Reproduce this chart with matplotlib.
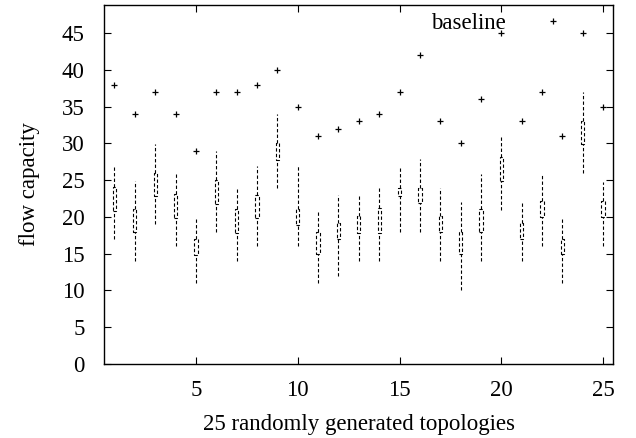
import matplotlib
matplotlib.use("Agg")
import matplotlib.pyplot as plt
from matplotlib.patches import Rectangle

plt.rcParams['font.family'] = ['Liberation Serif', 'DejaVu Serif']

topology = list(range(1, 26))
whisker_low = [17, 14, 19, 16, 11, 18, 14, 16, 24, 16, 11, 12, 14, 14, 18, 18, 14, 10, 14, 21, 14, 16, 11, 26, 16]
box_low = [20.8, 17.9, 22.9, 19.8, 14.8, 21.8, 17.8, 19.8, 27.8, 18.9, 14.9, 17.0, 17.8, 17.8, 22.8, 21.9, 17.9, 14.9, 17.9, 24.9, 17.0, 20.0, 14.9, 29.9, 20.0]
box_high = [24.1, 21.1, 26.0, 23.1, 17.0, 25.0, 21.1, 23.0, 30.1, 21.1, 18.0, 19.2, 20.1, 21.2, 24.0, 24.0, 20.1, 18.0, 21.1, 28.1, 19.1, 22.1, 17.0, 33.1, 22.1]
whisker_high = [26.8, 24.9, 29.9, 25.9, 20.0, 29.0, 23.9, 26.9, 34.0, 26.9, 21.0, 23.0, 23.0, 23.9, 26.8, 27.9, 23.9, 22.0, 25.9, 31.0, 21.9, 25.9, 19.8, 37.0, 24.7]
baseline = [38, 34, 37, 34, 29, 37, 37, 38, 40, 35, 31, 32, 33, 34, 37, 42, 33, 30, 36, 45, 33, 37, 31, 45, 35]

fs = 16.5
fig = plt.figure(figsize=(6.36, 4.38), dpi=100)
ax = fig.add_axes([104.3/636, 1-363.7/438, (613.3-104.3)/636, (363.7-4.7)/438])

dash = (0, (3, 2))
bw = 0.16
for x, wl, bl, bh, wh in zip(topology, whisker_low, box_low, box_high, whisker_high):
    ax.plot([x, x], [wl, bl], color='black', lw=0.8, linestyle=dash)
    ax.plot([x, x], [bh, wh], color='black', lw=0.8, linestyle=dash)
    ax.add_patch(Rectangle((x - bw/2, bl), bw, bh - bl, fill=False,
                           edgecolor='black', lw=0.8, linestyle=dash, joinstyle='round'))

ax.plot(topology, baseline, linestyle='none', marker='+', color='black',
        markersize=5, mew=0.9, label='baseline')

ax.set_xlim(0.5, 25.5)
ax.set_ylim(0, 48.9)
ax.set_xticks([5, 10, 15, 20, 25])
ax.set_yticks(range(0, 50, 5))
ax.tick_params(direction='in', top=True, right=True, labelsize=fs, length=5)
ax.tick_params(axis='y', pad=14)
ax.tick_params(axis='x', pad=12)
for s in ax.spines.values():
    s.set_linewidth(1.0)

ax.set_xlabel('25 randomly generated topologies', fontsize=fs, labelpad=9)
ax.set_ylabel('flow capacity', fontsize=fs, labelpad=16)

ax.legend(loc='upper right', bbox_to_anchor=(0.946, 1.022), frameon=False,
          markerfirst=False, fontsize=fs, handlelength=1.5, handletextpad=1.3,
          borderpad=0.2)

fig.savefig('out.png', dpi=100)
